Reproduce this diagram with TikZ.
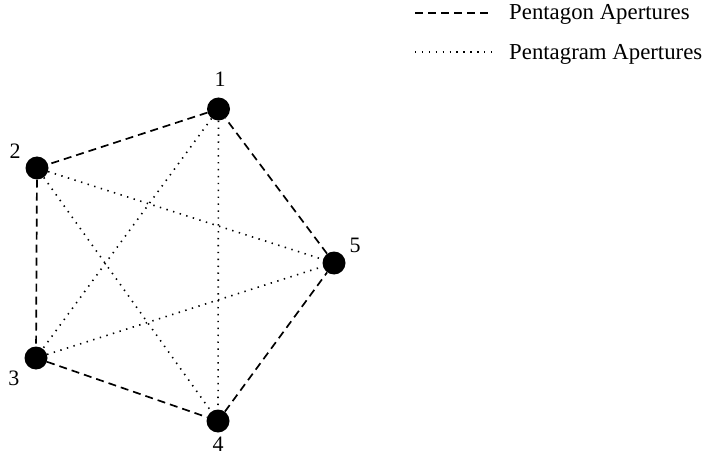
\documentclass[tikz,border=0pt]{standalone}
\usepackage{fontspec}
\setmainfont{Liberation Serif}
\begin{document}
\begin{tikzpicture}[x=1pt,y=-1pt,
  vtx/.style={circle,fill=black,inner sep=0pt,minimum size=23pt},
  lbl/.style={font=\fontsize{22}{25}\selectfont,inner sep=0pt},
  leg/.style={font=\fontsize{22.8}{26}\selectfont,inner sep=0pt},
  gon/.style={line width=1.7pt,dash pattern=on 8pt off 5pt},
  gram/.style={line width=1.6pt,dash pattern=on 1.4pt off 5.5pt}]
\useasboundingbox (0,0) rectangle (704,457);
% vertices
\node[vtx] (v1) at (218.5,109) {};
\node[vtx] (v2) at (37,168) {};
\node[vtx] (v3) at (36,358) {};
\node[vtx] (v4) at (218,421) {};
\node[vtx] (v5) at (334,263) {};
% vertex labels
\node[lbl] (l1) at (220,79) {1};
\node[lbl] (l2) at (15,151) {2};
\node[lbl] (l3) at (14,378) {3};
\node[lbl] (l4) at (218,444) {4};
\node[lbl] (l5) at (355,245) {5};
% pentagon edges
\draw[gon] (v1) -- (v2);
\draw[gon] (v2) -- (v3);
\draw[gon] (v3) -- (v4);
\draw[gon] (v4) -- (v5);
\draw[gon] (v5) -- (v1);
% pentagram edges
\draw[gram] (v1) -- (v3);
\draw[gram] (v1) -- (v4);
\draw[gram] (v2) -- (v4);
\draw[gram] (v2) -- (v5);
\draw[gram] (v3) -- (v5);
% legend
\coordinate (a1) at (415,13);
\coordinate (a2) at (492,13);
\coordinate (b1) at (415,52);
\coordinate (b2) at (492,52);
\draw[gon] (a1) -- (a2);
\draw[gram] (b1) -- (b2);
\node[leg,anchor=west] (t1) at (509,14) {Pentagon Apertures};
\node[leg,anchor=west] (t2) at (509,54) {Pentagram Apertures};
\end{tikzpicture}
\end{document}
